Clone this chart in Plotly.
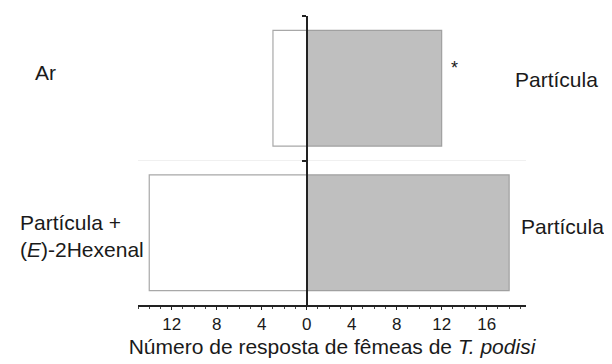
import plotly.graph_objects as go

categories = ["Ar", "Partícula + (E)-2Hexenal"]
left_labels = ["Ar", "Partícula +<br>(<i>E</i>)-2Hexenal"]
right_labels = ["Partícula", "Partícula"]
left_values = [3, 14]     # white bars (left side)
right_values = [12, 18]   # gray bars (right side)
significance = ["*", ""]
tick_values = [-12, -8, -4, 0, 4, 8, 12, 16]
tick_labels = ["12", "8", "4", "0", "4", "8", "12", "16"]
x_title = "Número de resposta de fêmeas de <i>T. podisi</i>"

FONT = "Liberation Sans, Arial, sans-serif"
TXT = "#1a1a1a"

# page body has an 8px default margin; figure is sized to fit the window
W, H = 604, 356
ML, MR, MT, MB = 130, 86, 8, 59

fig = go.Figure()
fig.add_trace(go.Bar(
    y=categories, x=[-v for v in left_values], orientation="h",
    marker=dict(color="white", line=dict(color="#a8a8a8", width=1.2)),
    width=0.8, showlegend=False, hoverinfo="skip"))
fig.add_trace(go.Bar(
    y=categories, x=right_values, orientation="h",
    marker=dict(color="#bfbfbf", line=dict(color="#a0a0a0", width=1.2)),
    width=0.8, showlegend=False, hoverinfo="skip"))

xmin, xmax = -15, 19.5
fig.update_layout(
    width=W, height=H,
    margin=dict(l=ML, r=MR, t=MT, b=MB),
    paper_bgcolor="white", plot_bgcolor="white",
    barmode="overlay",
    font=dict(family=FONT, color=TXT),
    xaxis=dict(
        range=[xmin, xmax], tickvals=tick_values, ticktext=tick_labels,
        showline=True, linecolor="#222", linewidth=1.5,
        ticks="outside", ticklen=3, tickwidth=1.2, tickcolor="#222",
        minor=dict(dtick=1, ticks="outside", ticklen=2, tickcolor="#444"),
        showgrid=False, zeroline=False,
        tickfont=dict(size=17, color=TXT, family=FONT),
        title=dict(text=x_title, font=dict(size=21, color=TXT, family=FONT), standoff=6),
    ),
    yaxis=dict(
        range=[1.5, -0.5], type="category",
        anchor="free", position=(0 - xmin) / (xmax - xmin),
        showline=True, linecolor="#222", linewidth=2,
        tickson="boundaries", ticks="outside", ticklen=4, tickwidth=2, tickcolor="#222",
        showticklabels=False, showgrid=True, gridcolor="#f0f0f0", zeroline=False,
    ),
)

def px(xp):
    # screen pixel -> paper fraction
    return (xp - 8 - ML) / (W - ML - MR)

fs = 21
fig.add_annotation(x=px(33), y=categories[0], xref="paper", yref="y", text=left_labels[0],
                   xanchor="left", showarrow=False, yshift=16,
                   font=dict(size=fs, color=TXT, family=FONT))
fig.add_annotation(x=px(146), y=categories[1], xref="paper", yref="y", text=left_labels[1],
                   xanchor="right", align="left", showarrow=False, yshift=-3,
                   font=dict(size=fs, color=TXT, family=FONT))
fig.add_annotation(x=px(513), y=categories[0], xref="paper", yref="y", text=right_labels[0],
                   xanchor="left", showarrow=False, yshift=9,
                   font=dict(size=fs, color=TXT, family=FONT))
fig.add_annotation(x=px(519), y=categories[1], xref="paper", yref="y", text=right_labels[1],
                   xanchor="left", showarrow=False, yshift=6,
                   font=dict(size=fs, color=TXT, family=FONT))
for cat, rv, s in zip(categories, right_values, significance):
    if s:
        fig.add_annotation(x=rv, y=cat, xref="x", yref="y", text=s, xanchor="left",
                           showarrow=False, xshift=7, yshift=20,
                           font=dict(size=18, color=TXT, family=FONT))

fig.write_html("out.html")
